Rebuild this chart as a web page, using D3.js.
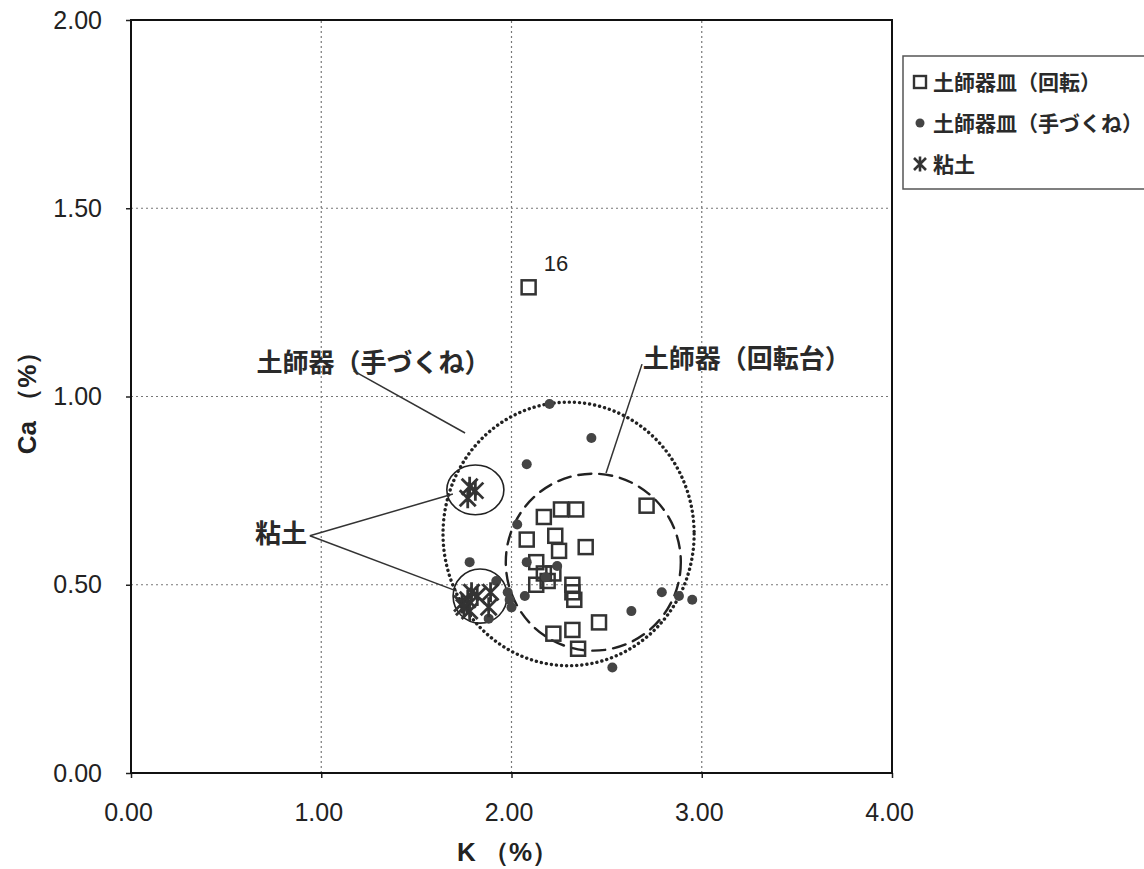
<!DOCTYPE html>
<html>
<head>
<meta charset="utf-8">
<script src="https://cdn.jsdelivr.net/npm/d3@7"></script>
<style>
  body { margin: 0; background: #fff; }
  svg { display: block; }
</style>
</head>
<body>
<svg width="1144" height="869"></svg>
<script>
(function () {

  // series names (legend order)
  var seriesNames = ['土師器皿（回転）', '土師器皿（手づくね）', '粘土']

  // 土師器皿（回転） : [K %, Ca %]
  var kaitenPoints = [
    [2.09, 1.29], [2.71, 0.71], [2.26, 0.70], [2.34, 0.70], [2.17, 0.68],
    [2.23, 0.63], [2.08, 0.62], [2.39, 0.60], [2.25, 0.59], [2.13, 0.56],
    [2.22, 0.53], [2.17, 0.53], [2.13, 0.50], [2.19, 0.51], [2.32, 0.50],
    [2.32, 0.48], [2.33, 0.46], [2.46, 0.40], [2.22, 0.37], [2.32, 0.38],
    [2.35, 0.33]
  ]

  // 土師器皿（手づくね）
  var tezukunePoints = [
    [2.20, 0.98], [2.42, 0.89], [2.08, 0.82], [2.03, 0.66], [2.08, 0.56],
    [2.24, 0.55], [1.78, 0.56], [1.92, 0.51], [1.98, 0.48], [1.99, 0.46],
    [2.00, 0.44], [2.07, 0.47], [1.88, 0.41], [2.79, 0.48], [2.88, 0.47],
    [2.95, 0.46], [2.63, 0.43], [2.53, 0.28], [2.18, 0.52]
  ]

  // 粘土
  var nendoPoints = [
    [1.78, 0.76], [1.81, 0.75], [1.77, 0.73],
    [1.74, 0.45], [1.77, 0.46], [1.82, 0.47], [1.89, 0.48], [1.88, 0.44],
    [1.78, 0.43], [1.75, 0.44], [1.79, 0.48]
  ]

  var xTicks = [0, 1, 2, 3, 4]
  var yTicks = [0, 0.5, 1, 1.5, 2]

  // grouping ellipses: [K centre, Ca centre, K radius, Ca radius]
  var groupTezukune = [2.30, 0.635, 0.66, 0.35]
  var groupKaiten = [2.43, 0.56, 0.46, 0.235]
  var groupNendo = [[1.81, 0.752, 0.15, 0.066], [1.835, 0.47, 0.142, 0.072]]

  var svg = d3.select('svg')

  var x = d3.scaleLinear().domain([0, 4]).range([131, 892])
  var y = d3.scaleLinear().domain([0, 2]).range([773, 20])

  var tickFont = '"Liberation Sans", Arial, sans-serif'
  var jpFont = '"Noto Sans CJK JP", "Noto Sans", sans-serif'

  // gridlines
  svg.append('g')
    .selectAll('line.gx')
    .data([1, 2, 3])
    .enter().append('line')
    .attr('x1', d => x(d)).attr('x2', d => x(d))
    .attr('y1', y(0)).attr('y2', y(2))
    .attr('stroke', '#777').attr('stroke-width', 1.2)
    .attr('stroke-dasharray', '2,3')

  svg.append('g')
    .selectAll('line.gy')
    .data([0.5, 1, 1.5])
    .enter().append('line')
    .attr('x1', x(0)).attr('x2', x(4))
    .attr('y1', d => y(d)).attr('y2', d => y(d))
    .attr('stroke', '#777').attr('stroke-width', 1.2)
    .attr('stroke-dasharray', '2,3')

  // axes
  var xAxis = svg.append('g')
    .attr('transform', 'translate(0,' + y(0) + ')')
    .call(d3.axisBottom(x).tickValues(xTicks).tickFormat(d3.format('.2f'))
      .tickSizeInner(5).tickSizeOuter(0).tickPadding(25))
  var yAxis = svg.append('g')
    .attr('transform', 'translate(' + x(0) + ',0)')
    .call(d3.axisLeft(y).tickValues(yTicks).tickFormat(d3.format('.2f'))
      .tickSizeInner(5).tickSizeOuter(0).tickPadding(24))

  ;[xAxis, yAxis].forEach(function (g) {
    g.select('.domain').remove()
    g.selectAll('line').attr('stroke', '#222').attr('stroke-width', 1.5)
    g.selectAll('text')
      .attr('font-family', tickFont)
      .attr('font-size', 25)
      .attr('fill', '#222')
  })
  xAxis.selectAll('text').attr('dx', -3)

  // frame
  svg.append('rect')
    .attr('x', x(0)).attr('y', y(2))
    .attr('width', x(4) - x(0)).attr('height', y(0) - y(2))
    .attr('fill', 'none').attr('stroke', '#111').attr('stroke-width', 2)

  // axis titles
  svg.append('text')
    .attr('x', (x(0) + x(4)) / 2 - 4).attr('y', 861)
    .attr('text-anchor', 'middle')
    .attr('font-family', tickFont).attr('font-weight', 'bold')
    .attr('font-size', 26).attr('fill', '#222')
    .text('K （%）')

  svg.append('text')
    .attr('transform', 'translate(36,' + y(1) + ') rotate(-90)')
    .attr('text-anchor', 'middle')
    .attr('font-family', tickFont).attr('font-weight', 'bold')
    .attr('font-size', 26).attr('fill', '#222')
    .text('Ca （%）')

  // grouping ellipses
  function ellipse(e, dash, width) {
    svg.append('ellipse')
      .attr('cx', x(e[0])).attr('cy', y(e[1]))
      .attr('rx', x(e[0] + e[2]) - x(e[0]))
      .attr('ry', y(e[1]) - y(e[1] + e[3]))
      .attr('fill', 'none').attr('stroke', '#222')
      .attr('stroke-width', width)
      .attr('stroke-dasharray', dash)
      .attr('stroke-linecap', dash ? 'round' : 'butt')
  }
  ellipse(groupTezukune, '0.1,5', 3.4)
  ellipse(groupKaiten, '13,8', 2.4)
  groupNendo.forEach(e => ellipse(e, null, 1.6))

  // marks
  var sq = 14
  svg.append('g')
    .selectAll('rect')
    .data(kaitenPoints)
    .enter().append('rect')
    .attr('x', d => x(d[0]) - sq / 2)
    .attr('y', d => y(d[1]) - sq / 2)
    .attr('width', sq).attr('height', sq)
    .attr('fill', 'none').attr('stroke', '#333').attr('stroke-width', 2.5)

  svg.append('g')
    .selectAll('circle')
    .data(tezukunePoints)
    .enter().append('circle')
    .attr('cx', d => x(d[0])).attr('cy', d => y(d[1]))
    .attr('r', 5)
    .attr('fill', '#444')

  function starPath(s) {
    return 'M' + -s + ',' + -s + 'L' + s + ',' + s +
      'M' + -s + ',' + s + 'L' + s + ',' + -s +
      'M0,' + (-s * 1.25) + 'L0,' + (s * 1.25)
  }
  svg.append('g')
    .selectAll('path')
    .data(nendoPoints)
    .enter().append('path')
    .attr('transform', d => 'translate(' + x(d[0]) + ',' + y(d[1]) + ')')
    .attr('d', starPath(8))
    .attr('fill', 'none').attr('stroke', '#333').attr('stroke-width', 2.8)

  // annotations: text position and leader lines in data units
  var labels = [
    { text: '土師器（手づくね）', k: 0.66, ca: 1.09, lines: [[[1.17, 1.068], [1.756, 0.903]]] },
    { text: '土師器（回転台）', k: 2.69, ca: 1.10, lines: [[[2.686, 1.086], [2.497, 0.797]]] },
    { text: '粘土', k: 0.652, ca: 0.635, lines: [[[0.94, 0.63], [1.692, 0.741]], [[0.94, 0.63], [1.713, 0.483]]] }
  ]

  labels.forEach(function (l) {
    svg.append('text')
      .attr('x', x(l.k)).attr('y', y(l.ca))
      .attr('dy', '0.36em')
      .attr('font-family', jpFont).attr('font-weight', 'bold')
      .attr('font-size', 26).attr('fill', '#2a2a2a')
      .text(l.text)
    l.lines.forEach(function (seg) {
      svg.append('line')
        .attr('x1', x(seg[0][0])).attr('y1', y(seg[0][1]))
        .attr('x2', x(seg[1][0])).attr('y2', y(seg[1][1]))
        .attr('stroke', '#333').attr('stroke-width', 1.5)
    })
  })

  svg.append('text')
    .attr('x', x(2.17)).attr('y', y(1.355))
    .attr('dy', '0.36em')
    .attr('font-family', tickFont).attr('font-size', 22).attr('fill', '#222')
    .text('16')

  // legend
  var legend = svg.append('g')
  legend.append('rect')
    .attr('x', 903).attr('y', 56).attr('width', 260).attr('height', 133)
    .attr('fill', '#fff').attr('stroke', '#555').attr('stroke-width', 1.5)

  var rowY = d3.scalePoint().domain(seriesNames).range([82, 164])

  legend.selectAll('text')
    .data(seriesNames)
    .enter().append('text')
    .attr('x', 933).attr('y', d => rowY(d))
    .attr('dy', '0.36em')
    .attr('font-family', jpFont).attr('font-weight', 'bold')
    .attr('font-size', 21).attr('fill', '#2a2a2a')
    .text(d => d)

  legend.append('rect')
    .attr('x', 914).attr('y', rowY(seriesNames[0]) - 6)
    .attr('width', 12).attr('height', 12)
    .attr('fill', 'none').attr('stroke', '#333').attr('stroke-width', 2.4)
  legend.append('circle')
    .attr('cx', 920).attr('cy', rowY(seriesNames[1]))
    .attr('r', 4.5).attr('fill', '#444')
  legend.append('path')
    .attr('transform', 'translate(920,' + rowY(seriesNames[2]) + ')')
    .attr('d', starPath(6))
    .attr('fill', 'none').attr('stroke', '#333').attr('stroke-width', 2.6)

})()
</script>
</body>
</html>
